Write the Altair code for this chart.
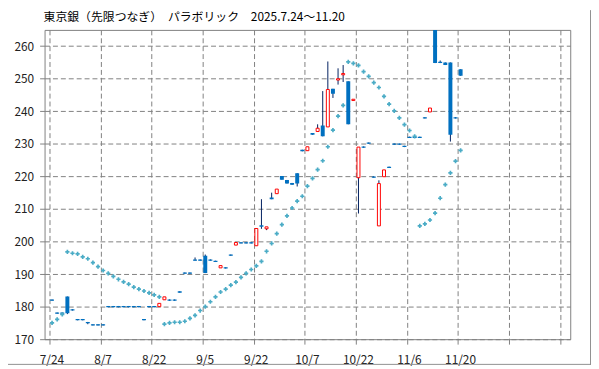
import altair as alt
import pandas as pd

FONT = "Noto Sans CJK JP"
TITLE = "東京銀（先限つなぎ）　パラボリック　2025.7.24～11.20"

dates = [
    "7/24", "7/25", "7/28", "7/29", "7/30", "7/31", "8/1", "8/4", "8/5", "8/6",
    "8/7", "8/8", "8/12", "8/13", "8/14", "8/15", "8/18", "8/19", "8/20", "8/21",
    "8/22", "8/25", "8/26", "8/27", "8/28", "8/29", "9/1", "9/2", "9/3", "9/4",
    "9/5", "9/8", "9/9", "9/10", "9/11", "9/12", "9/16", "9/17", "9/18", "9/19",
    "9/22", "9/24", "9/25", "9/26", "9/29", "9/30", "10/1", "10/2", "10/3", "10/6",
    "10/7", "10/8", "10/9", "10/10", "10/14", "10/15", "10/16", "10/17", "10/20", "10/21",
    "10/22", "10/23", "10/24", "10/27", "10/28", "10/29", "10/30", "10/31", "11/4", "11/5",
    "11/6", "11/7", "11/10", "11/11", "11/12", "11/13", "11/14", "11/17", "11/18", "11/19",
    "11/20",
]

opens = [
    182.2, 178.2, 178.2, 183.1, 179.2, 176.2, 176.2, 175.3, 174.6, 174.6,
    174.6, 180.2, 180.2, 180.2, 180.2, 180.2, 180.2, 180.2, 176.2, 180.2,
    180.2, 180.0, 182.1, 182.2, 182.2, 184.7, 190.5, 190.5, 194.5, 194.5,
    195.6, 194.5, 194.1, 191.9, 192.1, 196.0, 198.9, 199.8, 199.8, 199.8,
    198.7, 205.0, 203.9, 213.5, 214.7, 220.1, 218.9, 218.0, 221.0, 228.2,
    227.9, 233.3, 233.8, 235.6, 235.2, 246.9, 249.6, 251.2, 249.2, 243.3,
    219.6, 229.2, 230.4, 220.0, 204.8, 219.9, 223.0, 230.1, 230.1, 229.4,
    232.2, 232.2, 232.2, 238.2, 239.8, 270.0, 255.2, 255.0, 255.0, 238.2,
    252.9,
]

closes = [
    181.8, 177.8, 177.8, 178.0, 178.8, 175.8, 175.8, 174.9, 174.2, 174.2,
    174.2, 179.8, 179.8, 179.8, 179.8, 179.8, 179.8, 179.8, 175.8, 179.8,
    179.8, 181.0, 183.0, 181.8, 181.8, 184.3, 190.1, 190.1, 194.1, 194.1,
    190.3, 194.1, 193.7, 192.6, 191.7, 195.6, 199.7, 199.4, 199.4, 199.4,
    204.0, 204.5, 204.5, 213.0, 216.1, 219.0, 217.8, 217.4, 217.8, 227.7,
    229.1, 232.8, 234.8, 232.3, 246.7, 245.4, 250.0, 251.6, 236.0, 243.7,
    229.0, 228.8, 230.0, 219.6, 217.8, 222.0, 222.6, 229.7, 229.7, 229.0,
    231.8, 231.8, 231.8, 237.8, 241.0, 254.8, 254.8, 254.2, 232.8, 237.8,
    250.9,
]

highs = [
    182.2, 178.2, 178.2, 183.1, 179.2, 176.2, 176.2, 175.3, 174.6, 174.6,
    174.6, 180.2, 180.2, 180.2, 180.2, 180.2, 180.2, 180.2, 176.2, 180.2,
    180.2, 181.0, 183.0, 182.2, 182.2, 184.7, 190.5, 190.5, 195.1, 194.5,
    196.0, 194.5, 194.1, 192.6, 192.1, 196.0, 199.7, 199.8, 199.8, 199.8,
    204.0, 213.0, 204.5, 215.0, 216.1, 220.1, 218.9, 218.0, 221.0, 228.2,
    229.1, 233.3, 236.0, 246.2, 255.3, 246.9, 253.2, 254.2, 249.2, 243.7,
    229.0, 229.2, 230.4, 220.0, 218.8, 222.0, 223.0, 230.1, 230.1, 229.4,
    232.2, 232.2, 232.2, 238.2, 241.0, 270.0, 255.6, 255.0, 255.0, 238.2,
    252.9,
]

lows = [
    181.8, 177.8, 177.8, 177.7, 178.8, 175.8, 175.8, 174.6, 174.2, 174.2,
    174.2, 179.8, 179.8, 179.8, 179.8, 179.8, 179.8, 179.8, 175.8, 179.8,
    179.8, 180.0, 182.1, 181.8, 181.8, 184.3, 190.1, 190.1, 194.1, 194.1,
    190.3, 194.1, 193.7, 191.9, 191.7, 195.6, 198.9, 199.4, 199.4, 199.4,
    198.7, 203.9, 203.5, 213.0, 214.7, 219.0, 217.8, 217.4, 216.9, 227.7,
    227.9, 232.8, 233.8, 232.3, 235.2, 244.1, 248.2, 249.0, 236.0, 243.3,
    208.6, 228.8, 230.0, 219.6, 204.8, 219.9, 222.6, 229.7, 229.7, 229.0,
    231.8, 231.8, 231.8, 237.8, 239.8, 254.8, 254.8, 254.2, 230.7, 237.8,
    250.9,
]

sar = [
    175.0, 176.1, 177.6, 196.8, 196.4, 196.2, 195.3, 194.7, 193.5, 192.3,
    191.1, 190.2, 189.3, 188.4, 187.6, 186.9, 186.0, 185.4, 184.8, 184.2,
    183.6, 183.0, 174.6, 175.0, 175.2, 175.2, 175.5, 176.4, 177.3, 178.8,
    180.0, 181.5, 183.0, 184.5, 185.4, 186.6, 187.5, 189.0, 190.2, 191.4,
    192.5, 193.9, 197.0, 199.4, 202.4, 205.2, 207.9, 210.3, 212.4, 213.9,
    217.0, 219.4, 222.1, 224.8, 229.1, 234.2, 238.5, 241.8, 255.2, 254.7,
    254.1, 252.2, 250.7, 248.8, 247.3, 244.6, 242.2, 240.1, 238.0, 235.9,
    234.1, 232.3, 204.8, 205.4, 206.6, 208.7, 213.3, 217.5, 221.1, 224.7,
    228.0,
]

y_ticks = list(range(170, 261, 10))
x_ticks = list(range(0, 101, 10))

df = pd.DataFrame({
    "i": list(range(len(dates))),
    "date": dates,
    "open": opens,
    "close": closes,
    "high": highs,
    "low": lows,
    "sar": sar,
})
df["x"] = df["i"] + 0.5
df["up"] = df["close"] > df["open"]

label_arr = "[" + ",".join("'" + dates[k] + "'" for k in range(0, len(dates), 10)) + "]"

GRID = "#808080"
xaxis = alt.Axis(
    values=x_ticks,
    labelExpr=f"datum.value <= 80 ? {label_arr}[datum.value/10] : ''",
    grid=True, gridDash=[5, 3], gridColor=GRID, gridWidth=1,
    ticks=True, tickColor=GRID, tickSize=5,
    domain=False, labelFontSize=12, labelFont=FONT, labelColor="#222222",
    labelPadding=11, labelOffset=2, title=None, labelFlush=False, labelOverlap=False,
)
yaxis = alt.Axis(
    values=y_ticks,
    grid=True, gridDash=[5, 3], gridColor=GRID, gridWidth=1,
    ticks=True, tickColor=GRID, tickSize=5,
    domain=False, labelFontSize=12, labelFont=FONT, labelColor="#222222",
    labelPadding=6, title=None,
)

xs = alt.Scale(domain=[0, 101], nice=False, zero=False)
ys = alt.Scale(domain=[170, 265], nice=False, zero=False)

base = alt.Chart(df)

wicks = base.mark_rule(color="#002060", strokeWidth=1, clip=True).encode(
    x=alt.X("x:Q", scale=xs, axis=xaxis),
    y=alt.Y("low:Q", scale=ys, axis=yaxis),
    y2="high:Q",
)

down = base.transform_filter("!datum.up").mark_bar(
    size=4, color="#0070C0", clip=True
).encode(
    x=alt.X("x:Q", scale=xs, axis=xaxis),
    y=alt.Y("open:Q", scale=ys, axis=yaxis),
    y2="close:Q",
)

up = base.transform_filter("datum.up").mark_bar(
    size=3, fill="#FFFFFF", stroke="#FF0000", strokeWidth=1, clip=True
).encode(
    x=alt.X("x:Q", scale=xs, axis=xaxis),
    y=alt.Y("open:Q", scale=ys, axis=yaxis),
    y2="close:Q",
)

sar_pts = base.mark_point(
    shape="cross", filled=True, size=18, color="#4BACC6", opacity=1, clip=True
).encode(
    x=alt.X("x:Q", scale=xs, axis=xaxis),
    y=alt.Y("sar:Q", scale=ys, axis=yaxis),
)

title = alt.Chart(pd.DataFrame({"t": [TITLE]})).mark_text(
    align="left", baseline="middle", fontSize=12, font=FONT, color="#000000"
).encode(x=alt.value(-1), y=alt.value(-13.5), text="t:N")

FRAME = "#909090"
frame_bottom = alt.Chart(pd.DataFrame({"a": [0]})).mark_rule(
    color=FRAME, strokeWidth=1
).encode(x=alt.value(-37), x2=alt.value(553), y=alt.value(338.5))

frame_right = alt.Chart(pd.DataFrame({"a": [0]})).mark_rule(
    color=FRAME, strokeWidth=1
).encode(x=alt.value(552.5), y=alt.value(-20), y2=alt.value(339))

chart = alt.layer(wicks, down, up, sar_pts, title, frame_bottom, frame_right).properties(
    width=532, height=313,
    padding={"left": 37, "top": 20, "right": 21, "bottom": 27},
    autosize=alt.AutoSizeParams(type="none"),
    background="#FFFFFF",
).configure_view(stroke=GRID, strokeWidth=1)

chart.save("out.html", embed_options={"renderer": "svg", "actions": False})
